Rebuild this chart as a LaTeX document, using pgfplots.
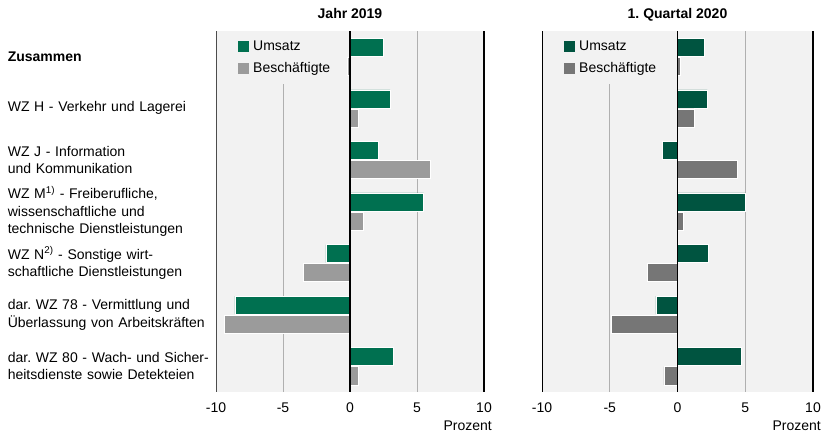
\documentclass[border=0pt]{standalone}
\usepackage{pgfplots}
\pgfplotsset{compat=1.18}
\usepackage{fontspec}
\setmainfont{Liberation Sans}
\frenchspacing
\definecolor{bgc}{RGB}{242,242,242}
\definecolor{gA}{RGB}{0,112,80}
\definecolor{bA}{RGB}{155,155,155}
\definecolor{gB}{RGB}{0,84,64}
\definecolor{bB}{RGB}{118,118,118}
\definecolor{gridc}{RGB}{176,176,176}
\pgfplotsset{
  common/.style={
    scale only axis,
    anchor=south west,
    height=361pt,
    xmin=-10, xmax=10,
    ymin=-0.5, ymax=6.5,
    y dir=reverse,
    clip=false,
    xtick={-10,-5,0,5,10},
    xticklabels={-10,-5,0,5,10},
    xticklabel style={yshift=-7pt},
    ytick={0,1,2,3,4,5,6},
    major tick length=0pt,
    xmajorgrids,
    grid style={gridc, line width=0.8pt},
    axis line style={draw=none},
    axis background/.style={fill=bgc},
    xbar, bar width=0.35,
    title style={anchor=base, at={(0.5,1)}, yshift=7pt, font=\fontsize{14}{17}\selectfont\bfseries},
    legend cell align=left,
    legend image code/.code={\draw[#1,draw=none] (0pt,-5.5pt) rectangle (11pt,5.5pt);},
    legend style={at={(axis description cs:0,1)}, xshift=18pt, anchor=north west, draw=none, fill=bgc,
      font=\fontsize{14}{17}\selectfont, inner xsep=4pt, inner ysep=8pt, row sep=6pt,
      /tikz/every odd column/.append style={column sep=2pt}},
  }
}
\begin{document}
\begin{tikzpicture}[font=\fontsize{14}{17.5}\selectfont]
\path[use as bounding box] (0,0) rectangle (824pt,434pt);
\begin{axis}[common, at={(216pt,42pt)}, width=268pt,
  title={Jahr 2019},
  yticklabels={\textbf{Zusammen},
    WZ H - Verkehr und Lagerei,
    WZ J - Information\\und Kommunikation,
    {WZ M\textsuperscript{1)} - Freiberufliche,\\wissenschaftliche und\\technische Dienstleistungen},
    WZ N\textsuperscript{2)} - Sonstige wirt-\\schaftliche Dienstleistungen,
    dar. WZ 78 - Vermittlung und\\Überlassung von Arbeitskräften,
    dar. WZ 80 - Wach- und Sicher-\\heitsdienste sowie Detekteien},
  yticklabel style={text width=208pt, align=left, anchor=east, inner sep=0pt},
]
\addplot[fill=gA, draw=white, line width=0.5pt, bar shift=-0.185] coordinates {(2.5,0) (3.0,1) (2.1,2) (5.5,3) (-1.8,4) (-8.6,5) (3.2,6)};
\addplot[fill=bA, draw=white, line width=0.5pt, bar shift=0.185] coordinates {(-0.2,0) (0.6,1) (6.0,2) (1.0,3) (-3.5,4) (-9.4,5) (0.6,6)};
\legend{Umsatz, Beschäftigte}
\draw[black!70, line width=0.8pt] (axis cs:-10,-0.5) -- (axis cs:-10,6.5);
\draw[black, line width=1.6pt] (axis cs:0,-0.5) -- (axis cs:0,6.5);
\draw[black, line width=1.6pt] (axis cs:10,-0.5) -- (axis cs:10,6.5);
\node[anchor=base east, inner sep=0pt, xshift=8pt, yshift=-38pt] at (axis description cs:1,0) {Prozent};
\end{axis}
\begin{axis}[common, at={(542pt,42pt)}, width=271pt,
  title={1. Quartal 2020},
  yticklabels={},
]
\addplot[fill=gB, draw=white, line width=0.5pt, bar shift=-0.185] coordinates {(2.0,0) (2.2,1) (-1.1,2) (5.0,3) (2.3,4) (-1.6,5) (4.7,6)};
\addplot[fill=bB, draw=white, line width=0.5pt, bar shift=0.185] coordinates {(0.2,0) (1.2,1) (4.4,2) (0.4,3) (-2.2,4) (-4.9,5) (-1.0,6)};
\legend{Umsatz, Beschäftigte}
\draw[black, line width=1pt] (axis cs:-10,-0.5) -- (axis cs:-10,6.5);
\draw[black, line width=1.6pt] (axis cs:0,-0.5) -- (axis cs:0,6.5);
\draw[black, line width=1.6pt] (axis cs:10,-0.5) -- (axis cs:10,6.5);
\node[anchor=base east, inner sep=0pt, xshift=8pt, yshift=-38pt] at (axis description cs:1,0) {Prozent};
\end{axis}
\end{tikzpicture}
\end{document}
